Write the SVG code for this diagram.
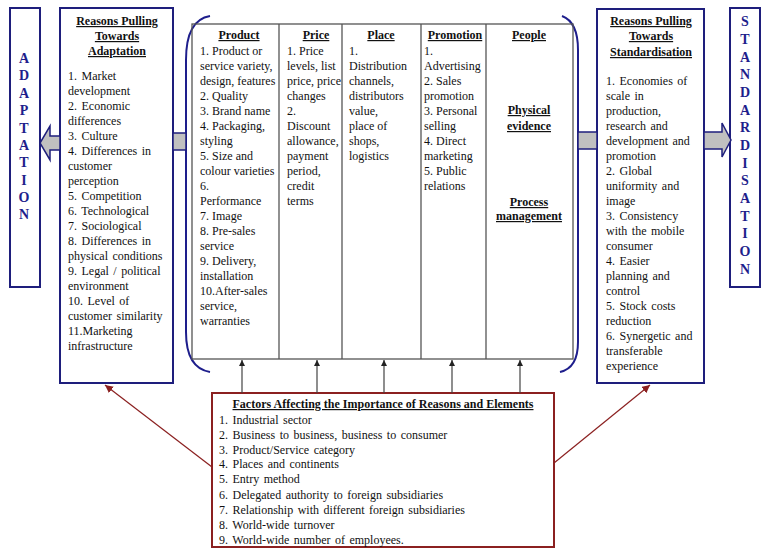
<svg xmlns="http://www.w3.org/2000/svg" width="771" height="555" viewBox="0 0 771 555">
<style>
.t{font-family:"Liberation Serif","Times New Roman",serif;font-size:12px;fill:#111}
.w{word-spacing:1.5px}
.h{font-family:"Liberation Serif","Times New Roman",serif;font-size:12px;font-weight:bold;fill:#111;text-decoration:underline;text-anchor:middle}
.v{font-family:"Liberation Serif","Times New Roman",serif;font-size:14px;font-weight:bold;fill:#1e1e8c;text-anchor:middle}
.nb{fill:#fff;stroke:#1e1e7c;stroke-width:2}
.ga{fill:#c0c0c0;stroke:#1e1e7c;stroke-width:1.5}
.grid{stroke:#555;stroke-width:1.3;fill:none}
.up{stroke:#444;stroke-width:1.2;marker-end:url(#ah)}
.red{stroke:#8b2020;stroke-width:1.2;marker-end:url(#rh)}
</style>
<defs>
<marker id="ah" markerWidth="8" markerHeight="8" refX="6" refY="3" orient="auto" markerUnits="userSpaceOnUse"><path d="M0,0 L6,3 L0,6 z" fill="#222"/></marker>
<marker id="rh" markerWidth="10" markerHeight="10" refX="8" refY="4" orient="auto" markerUnits="userSpaceOnUse"><path d="M0,0 L8,4 L0,8 z" fill="#8b2020"/></marker>
</defs>
<rect width="771" height="555" fill="#fff"/>

<g id="adaptation">
<rect class="nb" x="10" y="8" width="30" height="279"/>
<text class="v" x="24" y="63">A</text><text class="v" x="24" y="80">D</text><text class="v" x="24" y="98">A</text><text class="v" x="24" y="115">P</text><text class="v" x="24" y="133">T</text><text class="v" x="24" y="150">A</text><text class="v" x="24" y="167">T</text><text class="v" x="24" y="185">I</text><text class="v" x="24" y="202">O</text><text class="v" x="24" y="219">N</text>
</g>

<g id="standardisation">
<rect class="nb" x="730" y="8" width="30" height="279"/>
<text class="v" x="745" y="26">S</text><text class="v" x="745" y="44">T</text><text class="v" x="745" y="62">A</text><text class="v" x="745" y="79">N</text><text class="v" x="745" y="97">D</text><text class="v" x="745" y="115">A</text><text class="v" x="745" y="132">R</text><text class="v" x="745" y="150">D</text><text class="v" x="745" y="168">I</text><text class="v" x="745" y="185">S</text><text class="v" x="745" y="203">A</text><text class="v" x="745" y="221">T</text><text class="v" x="745" y="238">I</text><text class="v" x="745" y="256">O</text><text class="v" x="745" y="274">N</text>
</g>

<g id="reasons-adaptation">
<rect class="nb" x="60" y="8" width="113" height="375"/>
<text class="h" x="117" y="25">Reasons Pulling</text>
<text class="h" x="117" y="40">Towards</text>
<text class="h" x="117" y="55">Adaptation</text>
<g class="t w">
<text x="68" y="80">1. Market</text>
<text x="68" y="95">development</text>
<text x="68" y="110">2. Economic</text>
<text x="68" y="125">differences</text>
<text x="68" y="140">3. Culture</text>
<text x="68" y="155">4. Differences in</text>
<text x="68" y="170">customer</text>
<text x="68" y="185">perception</text>
<text x="68" y="200">5. Competition</text>
<text x="68" y="215">6. Technological</text>
<text x="68" y="230">7. Sociological</text>
<text x="68" y="245">8. Differences in</text>
<text x="68" y="260">physical conditions</text>
<text x="68" y="275">9. Legal / political</text>
<text x="68" y="290">environment</text>
<text x="68" y="305">10. Level of</text>
<text x="68" y="320">customer similarity</text>
<text x="68" y="335">11.Marketing</text>
<text x="68" y="350">infrastructure</text>
</g>
</g>

<g id="reasons-standardisation">
<rect class="nb" x="597" y="9" width="107" height="374"/>
<text class="h" x="651" y="25">Reasons Pulling</text>
<text class="h" x="651" y="40">Towards</text>
<text class="h" x="651" y="56">Standardisation</text>
<g class="t w">
<text x="606" y="85">1. Economies of</text>
<text x="606" y="100">scale in</text>
<text x="606" y="115">production,</text>
<text x="606" y="130">research and</text>
<text x="606" y="145">development and</text>
<text x="606" y="160">promotion</text>
<text x="606" y="175">2. Global</text>
<text x="606" y="190">uniformity and</text>
<text x="606" y="205">image</text>
<text x="606" y="220">3. Consistency</text>
<text x="606" y="235">with the mobile</text>
<text x="606" y="250">consumer</text>
<text x="606" y="265">4. Easier</text>
<text x="606" y="280">planning and</text>
<text x="606" y="295">control</text>
<text x="606" y="310">5. Stock costs</text>
<text x="606" y="325">reduction</text>
<text x="606" y="340">6. Synergetic and</text>
<text x="606" y="355">transferable</text>
<text x="606" y="370">experience</text>
</g>
</g>

<g id="mix-table">
<path d="M210,16 Q186,20 186,60 L186,332 Q186,368 210,372" fill="none" stroke="#1e1e8c" stroke-width="2"/>
<path d="M562,16 Q578,22 578,50 L578,342 Q578,368 560,372" fill="none" stroke="#1e1e8c" stroke-width="2"/>
<rect class="grid" x="192" y="24" width="381" height="335"/>
<line class="grid" x1="279" y1="24" x2="279" y2="359"/>
<line class="grid" x1="342" y1="24" x2="342" y2="359"/>
<line class="grid" x1="421" y1="24" x2="421" y2="359"/>
<line class="grid" x1="486" y1="24" x2="486" y2="359"/>
<text class="h" x="239" y="39">Product</text>
<text class="h" x="316" y="39">Price</text>
<text class="h" x="381" y="39">Place</text>
<text class="h" x="455" y="39">Promotion</text>
<text class="h" x="529" y="39">People</text>
<text class="h" x="529" y="114">Physical</text>
<text class="h" x="529" y="130">evidence</text>
<text class="h" x="529" y="206">Process</text>
<text class="h" x="529" y="220">management</text>
<g class="t">
<text x="200" y="55">1. Product or</text>
<text x="200" y="70">service variety,</text>
<text x="200" y="85">design, features</text>
<text x="200" y="100">2. Quality</text>
<text x="200" y="115">3. Brand name</text>
<text x="200" y="130">4. Packaging,</text>
<text x="200" y="145">styling</text>
<text x="200" y="160">5. Size and</text>
<text x="200" y="175">colour varieties</text>
<text x="200" y="190">6.</text>
<text x="200" y="205">Performance</text>
<text x="200" y="220">7. Image</text>
<text x="200" y="235">8. Pre-sales</text>
<text x="200" y="250">service</text>
<text x="200" y="265">9. Delivery,</text>
<text x="200" y="280">installation</text>
<text x="200" y="295">10.After-sales</text>
<text x="200" y="310">service,</text>
<text x="200" y="325">warranties</text>

<text x="287" y="55">1. Price</text>
<text x="287" y="70">levels, list</text>
<text x="287" y="85">price, price</text>
<text x="287" y="100">changes</text>
<text x="287" y="115">2.</text>
<text x="287" y="130">Discount</text>
<text x="287" y="145">allowance,</text>
<text x="287" y="160">payment</text>
<text x="287" y="175">period,</text>
<text x="287" y="190">credit</text>
<text x="287" y="205">terms</text>

<text x="349" y="55">1.</text>
<text x="349" y="70">Distribution</text>
<text x="349" y="85">channels,</text>
<text x="349" y="100">distributors</text>
<text x="349" y="115">value,</text>
<text x="349" y="130">place of</text>
<text x="349" y="145">shops,</text>
<text x="349" y="160">logistics</text>

<text x="424" y="55">1.</text>
<text x="424" y="70">Advertising</text>
<text x="424" y="85">2. Sales</text>
<text x="424" y="100">promotion</text>
<text x="424" y="115">3. Personal</text>
<text x="424" y="130">selling</text>
<text x="424" y="145">4. Direct</text>
<text x="424" y="160">marketing</text>
<text x="424" y="175">5. Public</text>
<text x="424" y="190">relations</text>
</g>
</g>

<g id="factors">
<rect x="212" y="393" width="342" height="154" fill="#fff" stroke="#8b2020" stroke-width="2"/>
<text class="h" x="383" y="408">Factors Affecting the Importance of Reasons and Elements</text>
<g class="t w">
<text x="219" y="424">1. Industrial sector</text>
<text x="219" y="439">2. Business to business, business to consumer</text>
<text x="219" y="454">3. Product/Service category</text>
<text x="219" y="468">4. Places and continents</text>
<text x="219" y="483">5. Entry method</text>
<text x="219" y="499">6. Delegated authority to foreign subsidiaries</text>
<text x="219" y="514">7. Relationship with different foreign subsidiaries</text>
<text x="219" y="529">8. World-wide turnover</text>
<text x="219" y="544">9. World-wide number of employees.</text>
</g>
</g>

<g id="connectors">
<polygon class="ga" points="60,136 50,136 50,126 40,143 50,160 50,150 60,150"/>
<rect class="ga" x="173" y="133" width="13" height="17"/>
<rect class="ga" x="578" y="132" width="19" height="17"/>
<polygon class="ga" points="704,132 722,132 722,123 731,140 722,157 722,149 704,149"/>
<line class="up" x1="242" y1="393" x2="242" y2="360"/>
<line class="up" x1="317" y1="393" x2="317" y2="360"/>
<line class="up" x1="384" y1="393" x2="384" y2="360"/>
<line class="up" x1="452" y1="393" x2="452" y2="360"/>
<line class="up" x1="520" y1="393" x2="520" y2="360"/>
<line class="red" x1="212" y1="467" x2="105" y2="385"/>
<line class="red" x1="554" y1="463" x2="650" y2="385"/>
</g>
</svg>
